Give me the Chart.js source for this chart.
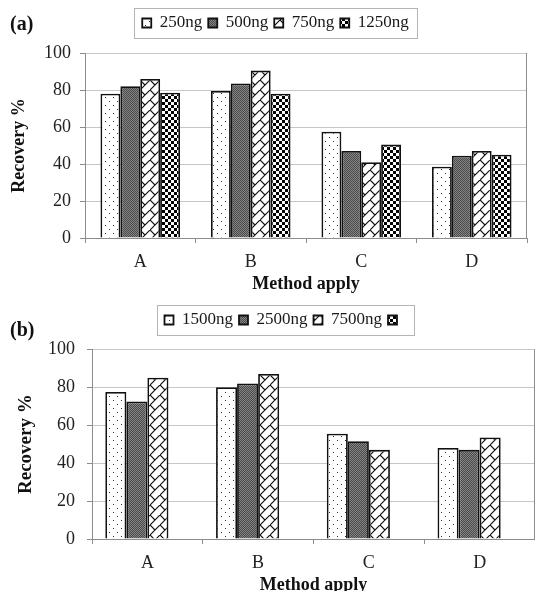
<!DOCTYPE html>
<html>
<head>
<meta charset="utf-8">
<script src="https://cdn.jsdelivr.net/npm/chart.js@4/dist/chart.umd.min.js"></script>
<style>
  html, body { margin: 0; padding: 0; background: #fff; overflow: hidden; }
  canvas { display: block; }
</style>
</head>
<body>
<canvas id="chartA" width="535" height="295"></canvas>
<canvas id="chartB" width="535" height="305"></canvas>
<script>
const methods = ["A", "B", "C", "D"]
const yTicks = [0, 20, 40, 60, 80, 100]

// panel (a)
const seriesA = ["250ng", "500ng", "750ng", "1250ng"]
const ng250 = [78, 79.5, 57.5, 38.5]
const ng500 = [82, 83.5, 47, 44.5]
const ng750 = [86, 90.5, 41, 47]
const ng1250 = [78.5, 78, 50.5, 45]

// panel (b) - the fourth legend entry has no label and no bars
const seriesB = ["1500ng", "2500ng", "7500ng", ""]
const ng1500 = [77.5, 80, 55.5, 48]
const ng2500 = [72.5, 82, 51.5, 47]
const ng7500 = [85, 87, 47, 53.5]
const blankB = [null, null, null, null]

const serif = "'Liberation Serif', 'Times New Roman', serif"
const axisGray = "#8c8c8c"

function tile(size, draw) {
  const c = document.createElement("canvas")
  c.width = c.height = size
  const g = c.getContext("2d")
  g.fillStyle = "#fff"
  g.fillRect(0, 0, size, size)
  draw(g, size)
  return g.createPattern(c, "repeat")
}

const dots = tile(8, g => {
  g.fillStyle = "#333"
  g.fillRect(1, 1, 1, 1)
  g.fillRect(5, 5, 1, 1)
})
const stipple = tile(2, g => {
  g.fillStyle = "#858585"
  g.fillRect(0, 0, 2, 2)
  g.fillStyle = "#4a4a4a"
  g.fillRect(0, 0, 1, 1)
  g.fillRect(1, 1, 1, 1)
})
const brick = tile(10, g => {
  g.strokeStyle = "#111"
  g.lineWidth = 1.2
  g.beginPath()
  g.moveTo(-1, 11); g.lineTo(11, -1)
  g.moveTo(0, 0); g.lineTo(5, 5)
  g.stroke()
})
const checker = tile(6, g => {
  g.fillStyle = "#000"
  g.fillRect(0, 0, 3, 3)
  g.fillRect(3, 3, 3, 3)
})
const fills = [dots, stipple, brick, checker]

const decor = {
  id: "decor",
  afterDraw(chart, args, opts) {
    const { ctx, chartArea: a, legend } = chart
    ctx.save()
    ctx.strokeStyle = axisGray
    ctx.lineWidth = 1
    ctx.beginPath()
    ctx.moveTo(Math.round(a.right) - 0.5, a.top)
    ctx.lineTo(Math.round(a.right) - 0.5, a.bottom)
    ctx.stroke()

    const boxes = legend.legendHitBoxes
    const last = boxes[boxes.length - 1]
    const left = Math.round(boxes[0].left - 8) + 0.5
    const right = Math.round(last.left + last.width + 8) + 0.5
    const mid = boxes[0].top + boxes[0].height / 2
    ctx.strokeStyle = "#b4b4b4"
    ctx.strokeRect(left, Math.round(mid - 15) + 0.5, right - left, 30)

    ctx.fillStyle = "#111"
    ctx.font = "bold 20px " + serif
    ctx.textBaseline = "middle"
    ctx.fillText(opts.tag, 10, opts.tagY)
    ctx.restore()
  }
}

function makeChart(id, names, values, cfg) {
  return new Chart(document.getElementById(id), {
    type: "bar",
    data: {
      labels: methods,
      datasets: names.map((name, i) => ({
        label: name,
        data: values[i],
        backgroundColor: fills[i],
        borderColor: "#111",
        borderWidth: 1.8,
        categoryPercentage: cfg.groupWidth,
        barPercentage: 1
      }))
    },
    options: {
      responsive: false,
      animation: false,
      layout: { padding: { top: cfg.top, left: cfg.left, right: cfg.right, bottom: 0 } },
      plugins: {
        legend: {
          labels: {
            boxWidth: 9,
            boxHeight: 9,
            padding: 6,
            color: "#1a1a1a",
            font: { family: serif, size: 17 }
          }
        },
        subtitle: {
          display: true,
          text: "",
          weight: 500,
          padding: 0,
          font: { size: 10, lineHeight: cfg.gap + "px" }
        },
        tooltip: { enabled: false },
        decor: { tag: cfg.tag, tagY: cfg.tagY }
      },
      scales: {
        x: {
          afterFit(scale) { scale.height = cfg.xHeight },
          ticks: { padding: 8, color: "#222", font: { family: serif, size: 18 } },
          grid: { offset: true, drawOnChartArea: false, tickLength: 5, color: axisGray },
          border: { color: axisGray },
          title: {
            display: true,
            text: "Method apply",
            color: "#111",
            font: { family: serif, size: 18, weight: "bold" },
            padding: { top: 0, bottom: cfg.titleBottom }
          }
        },
        y: {
          min: 0,
          max: 100,
          afterFit(scale) { scale.width = cfg.yWidth },
          afterBuildTicks(scale) { scale.ticks = yTicks.map(v => ({ value: v })) },
          ticks: { padding: cfg.yPad, color: "#222", font: { family: serif, size: 18 } },
          grid: { color: "#c6c6c6", tickColor: axisGray, tickLength: 5 },
          border: { color: axisGray },
          title: {
            display: true,
            text: "Recovery %",
            color: "#111",
            font: { family: serif, size: cfg.yTitleSize, weight: "bold" },
            padding: { top: cfg.yTitlePad, bottom: 0 }
          }
        }
      }
    },
    plugins: [decor]
  })
}

makeChart("chartA", seriesA, [ng250, ng500, ng750, ng1250], {
  tag: "(a)", tagY: 25, groupWidth: 0.72,
  top: 8.5, gap: 11.5, left: 24, right: 8,
  yWidth: 61, yPad: 9, yTitlePad: -15, yTitleSize: 18,
  xHeight: 57, titleBottom: 0
})

makeChart("chartB", seriesB, [ng1500, ng2500, ng7500, blankB], {
  tag: "(b)", tagY: 36, groupWidth: 0.76,
  top: 10.5, gap: 10.8, left: 35, right: 0,
  yWidth: 57, yPad: 12, yTitlePad: -20, yTitleSize: 19,
  xHeight: 61, titleBottom: 4
})
</script>
</body>
</html>
